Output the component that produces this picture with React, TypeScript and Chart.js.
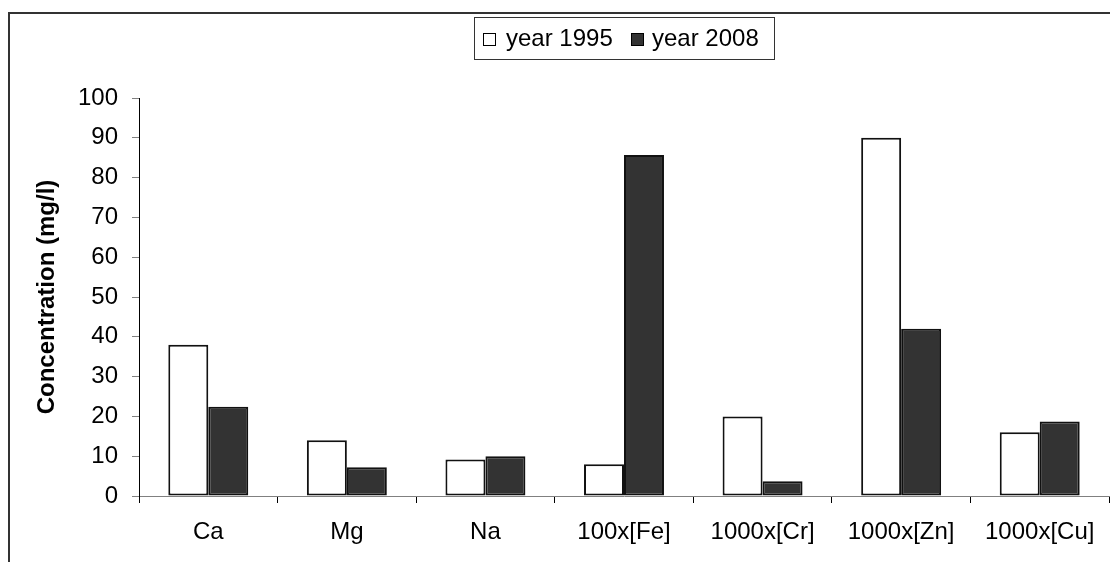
import React, { useEffect, useRef } from "react";
import { Chart, registerables } from "chart.js";

Chart.register(...registerables);

const categories = ["Ca", "Mg", "Na", "100x[Fe]", "1000x[Cr]", "1000x[Zn]", "1000x[Cu]"];
const year1995 = [38, 14, 9.2, 8, 20, 90, 16];
const year2008 = [22.4, 7.2, 10, 85.7, 3.7, 42, 18.7];
const seriesLabels = ["year 1995", "year 2008"];
const yTitle = "Concentration (mg/l)";

const FONT = "'Liberation Sans', Arial, sans-serif";

const framePlugin = {
  id: "frame",
  afterDraw(chart: any) {
    const ctx = chart.ctx;
    ctx.save();
    ctx.strokeStyle = "#333333";
    ctx.lineWidth = 2;
    ctx.beginPath();
    ctx.moveTo(9, chart.height);
    ctx.lineTo(9, 13);
    ctx.lineTo(chart.width, 13);
    ctx.stroke();
    ctx.restore();
  },
};

const legendPlugin = {
  id: "boxLegend",
  afterDraw(chart: any) {
    const ctx = chart.ctx;
    const ds = chart.data.datasets;
    ctx.save();
    ctx.strokeStyle = "#333333";
    ctx.lineWidth = 1;
    ctx.strokeRect(474.5, 17.5, 300, 42);
    ctx.font = `24px ${FONT}`;
    ctx.textBaseline = "alphabetic";
    const squares = [483, 631];
    const texts = [506, 652];
    for (let i = 0; i < ds.length; i++) {
      ctx.fillStyle = ds[i].backgroundColor;
      ctx.fillRect(squares[i] + 0.5, 33.5, 12, 12);
      ctx.strokeStyle = "#000";
      ctx.strokeRect(squares[i] + 0.5, 33.5, 12, 12);
      ctx.fillStyle = "#000";
      ctx.fillText(ds[i].label, texts[i], 46);
    }
    ctx.restore();
  },
};

export default function App() {
  const ref = useRef<HTMLCanvasElement | null>(null);
  useEffect(() => {
    if (!ref.current) return;
    const chart = new Chart(ref.current, {
      type: "bar",
      data: {
        labels: categories,
        datasets: [
          {
            label: seriesLabels[0],
            data: year1995,
            backgroundColor: "#ffffff",
            borderColor: "#111111",
            borderWidth: 2,
            borderSkipped: false,
            categoryPercentage: 0.577,
            barPercentage: 1,
          },
          {
            label: seriesLabels[1],
            data: year2008,
            backgroundColor: "#333333",
            borderColor: "#111111",
            borderWidth: 2,
            borderSkipped: false,
            categoryPercentage: 0.577,
            barPercentage: 1,
          },
        ],
      },
      options: {
        animation: false,
        responsive: false,
        maintainAspectRatio: false,
        devicePixelRatio: 1,
        layout: { padding: { left: 0, top: 98, right: 1, bottom: 0 } },
        plugins: {
          legend: { display: false },
          tooltip: { enabled: false },
          title: { display: false },
        },
        scales: {
          x: {
            afterFit: (s: any) => {
              s.height = 66;
            },
            grid: {
              display: true,
              drawOnChartArea: false,
              drawTicks: true,
              tickLength: 7,
              color: "#000000",
              offset: true,
            },
            border: { display: true, color: "#808080", width: 1 },
            ticks: {
              color: "#000",
              font: { family: FONT, size: 24 },
              padding: 15,
              maxRotation: 0,
              autoSkip: false,
            },
          },
          y: {
            min: 0,
            max: 100,
            afterFit: (s: any) => {
              s.width = 139;
            },
            grid: {
              display: true,
              drawOnChartArea: false,
              drawTicks: true,
              tickLength: 7,
              color: "#808080",
            },
            border: { display: true, color: "#000000", width: 1 },
            ticks: {
              stepSize: 10,
              color: "#000",
              font: { family: FONT, size: 24 },
              padding: 14,
            },
            title: {
              display: true,
              text: yTitle,
              color: "#000",
              font: { family: FONT, size: 24, weight: "bold" },
              padding: { top: 33, bottom: 0 },
            },
          },
        },
      },
      plugins: [framePlugin, legendPlugin],
    });
    return () => chart.destroy();
  }, []);
  return (
    <div style={{ position: "absolute", left: 0, top: 0, width: 1110, height: 562, background: "#fff" }}>
      <canvas ref={ref} width={1110} height={562} style={{ display: "block", width: 1110, height: 562 }} />
    </div>
  );
}
